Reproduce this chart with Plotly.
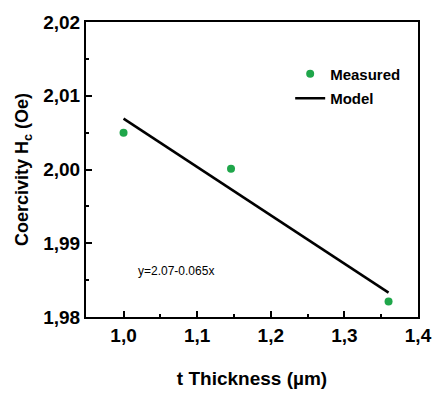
import plotly.graph_objects as go

# Data
thickness = [1.0, 1.146, 1.36]
coercivity = [2.005, 2.0001, 1.9821]
model_x = [1.0, 1.36]
model_y = [2.0069, 1.9833]
eq_text = "y=2.07-0.065x"
eq_pos = (1.017, 1.9863)

FONT = "Arial, 'Liberation Sans', sans-serif"
GREEN = "#1fa64a"

fig = go.Figure()
fig.add_trace(go.Scatter(
    x=thickness, y=coercivity, mode="markers", name="Measured",
    marker=dict(color=GREEN, size=8, line=dict(width=0)),
    legendgroup="a",
))
fig.add_trace(go.Scatter(
    x=model_x, y=model_y, mode="lines", name="Model",
    line=dict(color="black", width=2.5),
    legendgroup="b",
))

fig.add_annotation(
    x=eq_pos[0], y=eq_pos[1], text=eq_text, showarrow=False,
    xanchor="left", yanchor="middle",
    font=dict(family=FONT, size=12, color="black"),
)

axis_common = dict(
    showline=True, linecolor="black", linewidth=2, mirror=True,
    ticks="inside", ticklen=6, tickwidth=1.5, tickcolor="black",
    showgrid=False, zeroline=False,
    tickfont=dict(family=FONT, size=19, color="black", weight="bold"),
)

fig.update_xaxes(
    range=[0.949, 1.4], dtick=0.1, tick0=1.0, tickformat=".1f",
    minor=dict(ticks="inside", ticklen=3, dtick=0.05, tickcolor="black", tickwidth=1.5),
    title=dict(text="t Thickness (µm)", standoff=27,
               font=dict(family=FONT, size=19, color="black", weight="bold")),
    **axis_common,
)
fig.update_yaxes(
    range=[1.98, 2.02], dtick=0.01, tick0=1.98, tickformat=".2f",
    minor=dict(ticks="inside", ticklen=3, dtick=0.005, tickcolor="black", tickwidth=1.5),
    title=dict(text="Coercivity H<sub>c</sub> (Oe)", standoff=10,
               font=dict(family=FONT, size=18, color="black", weight="bold")),
    **axis_common,
)

fig.update_layout(
    width=444, height=398,
    margin=dict(l=86, r=19, t=22, b=77),
    paper_bgcolor="white", plot_bgcolor="white",
    separators=", ",
    showlegend=True,
    legend=dict(
        x=0.615, y=0.88, xanchor="left", yanchor="top",
        bgcolor="rgba(0,0,0,0)", borderwidth=0,
        font=dict(family=FONT, size=15, color="black", weight="bold"),
        tracegroupgap=2,
    ),
)

fig.write_html("out.html")
